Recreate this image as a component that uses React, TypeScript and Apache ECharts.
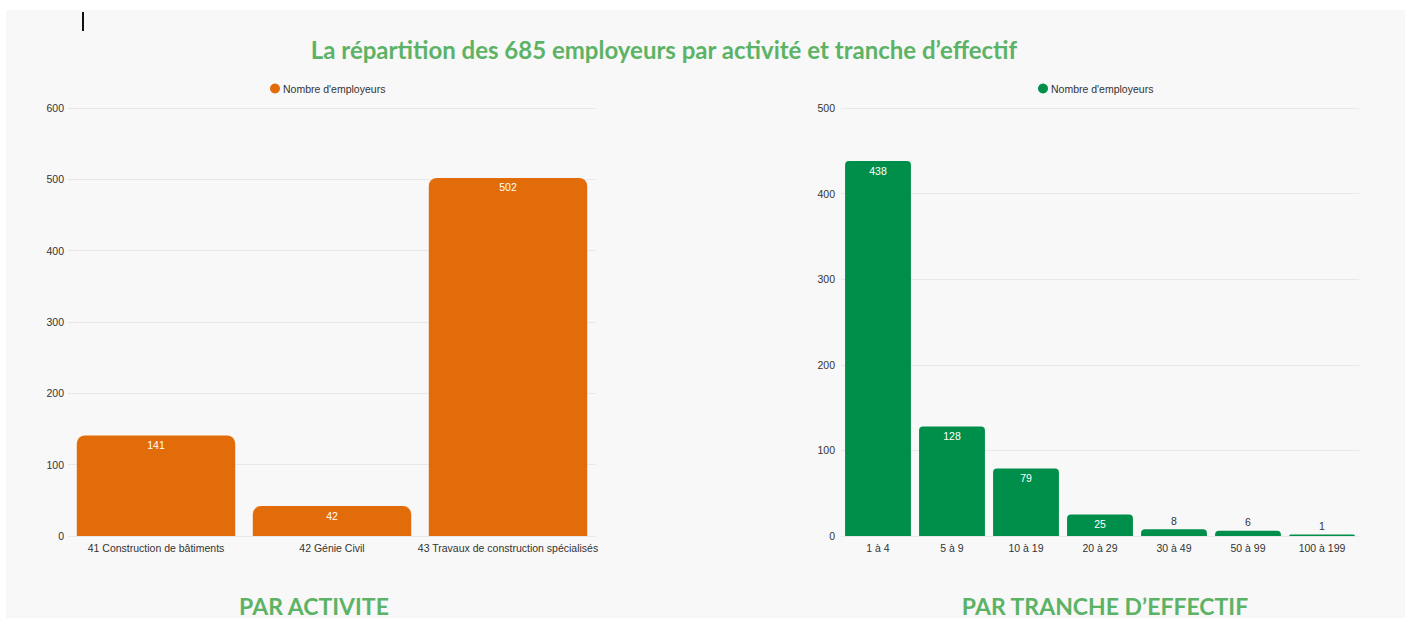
import React, { useEffect, useRef } from "react";
import * as echarts from "echarts";

const TITLE = "La répartition des 685 employeurs par activité et tranche d’effectif";
const SERIES_NAME = "Nombre d'employeurs";

const activityCategories = [
  "41 Construction de bâtiments",
  "42 Génie Civil",
  "43 Travaux de construction spécialisés",
];
const activityValues = [141, 42, 502];
const activityTicks = [0, 100, 200, 300, 400, 500, 600];

const sizeCategories = ["1 à 4", "5 à 9", "10 à 19", "20 à 29", "30 à 49", "50 à 99", "100 à 199"];
const sizeValues = [438, 128, 79, 25, 8, 6, 1];
const sizeTicks = [0, 100, 200, 300, 400, 500];

const subTitles = ["PAR ACTIVITE", "PAR TRANCHE D’EFFECTIF"];

const ORANGE = "#e36c0a";
const GREEN = "#008f4a";
const TITLE_GREEN = "#5cb366";
const FONT = "Liberation Sans, Arial";

export default function App() {
  const ref = useRef<HTMLDivElement>(null);
  useEffect(() => {
    if (!ref.current) return;
    const chart = echarts.init(ref.current, undefined, { renderer: "svg" });
    const axisLabel = { fontFamily: FONT, fontSize: 10.5, color: "#333" };
    const makeData = (vals: number[], small: number) =>
      vals.map((v) => ({
        value: v,
        label:
          v < small
            ? { position: "top", color: "#333", distance: 3 }
            : { position: "insideTop", color: "#fff", distance: 4 },
      }));
    const legendCommon = {
      icon: "circle",
      itemWidth: 10,
      itemHeight: 10,
      itemGap: 5,
      selectedMode: false,
      textStyle: { fontFamily: FONT, fontSize: 10.5, color: "#333", padding: [0, 0, 0, -2] },
    };
    chart.setOption({
      animation: false,
      backgroundColor: "#ffffff",
      graphic: [
        {
          type: "rect",
          shape: { x: 6, y: 10, width: 1399, height: 608 },
          style: { fill: "#f8f8f8" },
          z: -10,
          silent: true,
        },
        {
          type: "line",
          shape: { x1: 83, y1: 12, x2: 83, y2: 31 },
          style: { stroke: "#111", lineWidth: 2 },
        },
      ],
      title: [
        {
          text: TITLE,
          left: 659,
          top: 32,
          textAlign: "center",
          textStyle: { fontFamily: "Lato", fontWeight: "bold", fontSize: 24, color: TITLE_GREEN },
        },
        {
          text: subTitles[0],
          left: 309,
          top: 589,
          textAlign: "center",
          textStyle: { fontFamily: "Lato", fontWeight: "bold", fontSize: 23, color: TITLE_GREEN },
        },
        {
          text: subTitles[1],
          left: 1100,
          top: 589,
          textAlign: "center",
          textStyle: { fontFamily: "Lato", fontWeight: "bold", fontSize: 23, color: TITLE_GREEN },
        },
      ],
      legend: [
        {
          ...legendCommon,
          data: [{ name: SERIES_NAME, itemStyle: { color: ORANGE } }],
          left: 265,
          top: 78,
        },
        {
          ...legendCommon,
          data: [{ name: SERIES_NAME, itemStyle: { color: GREEN } }],
          left: 1033,
          top: 78,
        },
      ],
      grid: [
        { left: 68, right: 815, top: 108, bottom: 85 },
        { left: 841, right: 52, top: 108, bottom: 85 },
      ],
      xAxis: [
        {
          gridIndex: 0,
          type: "category",
          data: activityCategories,
          axisLine: { show: false },
          axisTick: { show: false },
          axisLabel: { ...axisLabel, margin: 6, interval: 0 },
        },
        {
          gridIndex: 1,
          type: "category",
          data: sizeCategories,
          axisLine: { show: false },
          axisTick: { show: false },
          axisLabel: { ...axisLabel, margin: 6, interval: 0 },
        },
      ],
      yAxis: [
        {
          gridIndex: 0,
          type: "value",
          min: activityTicks[0],
          max: activityTicks[activityTicks.length - 1],
          interval: activityTicks[1] - activityTicks[0],
          axisLabel: { ...axisLabel, margin: 4 },
          splitLine: { lineStyle: { color: "#e8e8e8" } },
        },
        {
          gridIndex: 1,
          type: "value",
          min: sizeTicks[0],
          max: sizeTicks[sizeTicks.length - 1],
          interval: sizeTicks[1] - sizeTicks[0],
          axisLabel: { ...axisLabel, margin: 6 },
          splitLine: { lineStyle: { color: "#e8e8e8" } },
        },
      ],
      series: [
        {
          name: SERIES_NAME,
          type: "bar",
          xAxisIndex: 0,
          yAxisIndex: 0,
          barWidth: "90%",
          data: makeData(activityValues, 20),
          itemStyle: { color: ORANGE, borderRadius: [8, 8, 0, 0] },
          label: { show: true, fontFamily: FONT, fontSize: 10.5 },
        },
        {
          name: SERIES_NAME,
          type: "bar",
          xAxisIndex: 1,
          yAxisIndex: 1,
          barWidth: "89%",
          barMinHeight: 1.5,
          data: makeData(sizeValues, 20),
          itemStyle: { color: GREEN, borderRadius: [4, 4, 0, 0] },
          label: { show: true, fontFamily: FONT, fontSize: 10.5 },
        },
      ],
    });
    return () => chart.dispose();
  }, []);
  return (
    <div
      ref={ref}
      style={{ position: "absolute", left: 0, top: 0, width: 1411, height: 621 }}
    />
  );
}
